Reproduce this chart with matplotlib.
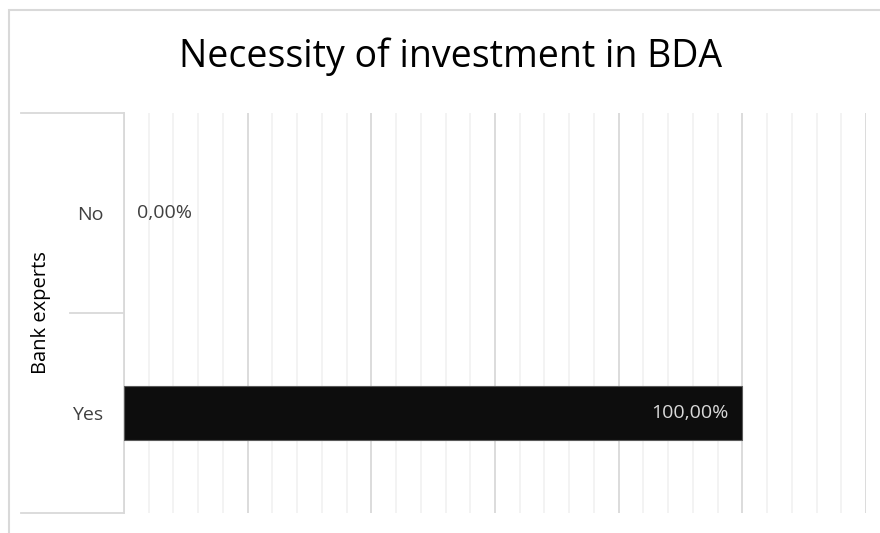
import matplotlib.pyplot as plt
from matplotlib.patches import Rectangle
from matplotlib.ticker import MultipleLocator

categories = ['Yes', 'No']
values = [1.0, 0.0]
labels = ['100,00%', '0,00%']
group_label = 'Bank experts'
title = 'Necessity of investment in BDA'

plt.rcParams['font.family'] = ['Open Sans', 'DejaVu Sans']

fig = plt.figure(figsize=(8.8, 5.33), dpi=100)
fig.patches.append(Rectangle((9 / 880, -0.1), 1.0, 1 - 10 / 533 + 0.1, transform=fig.transFigure,
                             fill=False, edgecolor='#d9d9d9', linewidth=1.5))

ax = fig.add_axes([124 / 880, 20 / 533, 742 / 880, 400 / 533])
ypos = list(range(len(categories)))
edge_w = [0.8 if v > 0 else 0 for v in values]
ax.barh(ypos, values, height=0.27, color='#0d0d0d', edgecolor='#595959', linewidth=edge_w, zorder=3)

ax.set_xlim(0, 1.2)
ax.set_ylim(-0.5, 1.5)
ax.xaxis.set_major_locator(MultipleLocator(0.2))
ax.xaxis.set_minor_locator(MultipleLocator(0.04))
ax.grid(axis='x', which='major', color='#d9d9d9', linewidth=1.3, zorder=0)
ax.grid(axis='x', which='minor', color='#f2f2f2', linewidth=1.3, zorder=0)
ax.tick_params(axis='x', which='both', length=0, labelbottom=False)

ax.set_yticks(ypos)
ax.set_yticklabels(categories, fontsize=14, color='#404040')
ax.tick_params(axis='y', length=0, pad=15)

for s in ['top', 'right', 'bottom']:
    ax.spines[s].set_visible(False)
ax.spines['left'].set_color('#d9d9d9')
ax.spines['left'].set_linewidth(1.3)

# value labels
for y, v, lab in zip(ypos, values, labels):
    if v > 0.5:
        ax.annotate(lab, (v, y), xytext=(-10, 0), textcoords='offset points', ha='right', va='center',
                    fontsize=14, color='#d9d9d9', zorder=4)
    else:
        ax.annotate(lab, (v, y), xytext=(9, 0), textcoords='offset points', ha='left', va='center',
                    fontsize=14, color='#404040', zorder=4)

# two-level category axis lines
lw = dict(color='#d9d9d9', linewidth=1.3, clip_on=False, transform=ax.transAxes)
ax.plot([-103 / 742, 0], [1, 1], **lw)
ax.plot([-103 / 742, 0], [0, 0], **lw)
ax.plot([-54 / 742, 0], [0.5, 0.5], **lw)
ax.text(-83 / 742, 0.5, group_label, transform=ax.transAxes, rotation=90, ha='center', va='center',
        fontsize=14.5, color='#000000')

fig.text(451 / 880, 1 - 57 / 533, title, ha='center', va='center', fontsize=27, color='#000000')

fig.savefig('out.png', dpi=100)
